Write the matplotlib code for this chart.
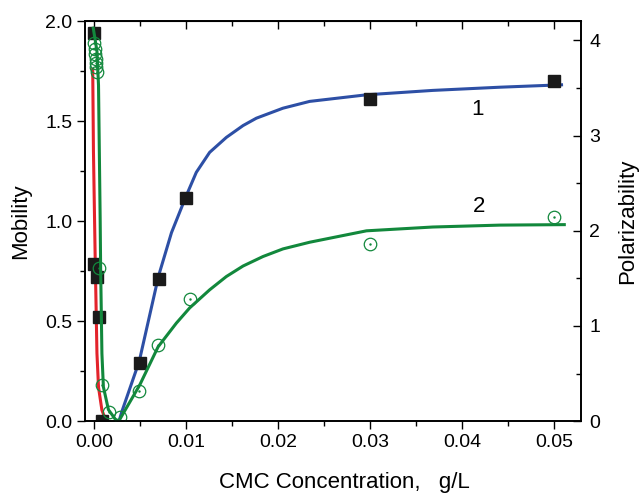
import numpy as np
import matplotlib.pyplot as plt
from matplotlib.ticker import MultipleLocator

plt.rcParams['font.family'] = ['Liberation Sans', 'DejaVu Sans']

# --- data ---
# series 1: mobility (left axis), black squares
mob_x = [0.0, 0.0, 0.0003, 0.0005, 0.0008, 0.005, 0.007, 0.010, 0.030, 0.050]
mob_y = [1.94, 0.785, 0.72, 0.52, 0.0, 0.29, 0.71, 1.115, 1.61, 1.70]

# series 2: polarizability (right axis), open green circles
pol_x = [0.0, 0.00005, 0.0001, 0.00015, 0.0002, 0.00025, 0.0003,
         0.00056, 0.0008, 0.0016, 0.0028, 0.0049, 0.0069, 0.0104, 0.030, 0.050]
pol_y = [3.97, 3.91, 3.86, 3.81, 3.76, 3.72, 3.67,
         1.61, 0.38, 0.10, 0.045, 0.32, 0.80, 1.28, 1.86, 2.15]

# fitted curves
red_x = [-0.00016, -0.00008, 0.0001, 0.0003, 0.00047, 0.00084, 0.0013]
red_y = [1.76, 1.35, 0.84, 0.34, 0.17, 0.055, 0.0]

blue_x = [0.0027, 0.0030, 0.0049, 0.0070, 0.0084, 0.0100, 0.0111, 0.01255,
          0.01437, 0.01618, 0.01763, 0.02052, 0.02342, 0.0296, 0.0368,
          0.0441, 0.0508]
blue_y = [0.0, 0.047, 0.30, 0.727, 0.943, 1.127, 1.245, 1.345,
          1.42, 1.479, 1.516, 1.566, 1.60, 1.633, 1.655,
          1.671, 1.683]

gdown_x = [-0.0001, 0.0003, 0.00047, 0.00065, 0.0007, 0.00084, 0.001, 0.00155, 0.0023, 0.0027]
gdown_y = [4.13, 3.89, 3.53, 2.12, 1.62, 0.71, 0.36, 0.12, 0.02, 0.0]

gup_x = [0.0026, 0.00277, 0.00495, 0.00694, 0.00893, 0.01038, 0.01255, 0.01437,
         0.01618, 0.01835, 0.02052, 0.02342, 0.0296, 0.0368, 0.0441, 0.0511]
gup_y = [0.0, 0.017, 0.38, 0.78, 1.03, 1.19, 1.38, 1.52,
         1.63, 1.73, 1.81, 1.88, 2.00, 2.04, 2.06, 2.065]

red = '#e3232b'
blue = '#2d4fa5'
green = '#12883c'

fig = plt.figure(figsize=(6.39, 4.99), dpi=100)
ax = fig.add_axes([0.133, 0.156, 0.776, 0.801])
ax2 = ax.twinx()

ax.plot(red_x, red_y, color=red, lw=2.2, zorder=2)
ax.plot(blue_x, blue_y, color=blue, lw=2.2, zorder=2)
ax.plot(mob_x, mob_y, 's', color='#1a1a1a', ms=8, zorder=3)

ax2.plot(gdown_x, gdown_y, color=green, lw=2.2)
ax2.plot(gup_x, gup_y, color=green, lw=2.2)
ax2.plot(pol_x, pol_y, 'o', mfc='none', mec=green, mew=0.9, ms=9)
ax2.plot(pol_x, pol_y, '.', color=green, ms=1.5)

ax.set_xlim(-0.001, 0.0529)
ax.set_ylim(0, 2.0)
ax2.set_ylim(0, 4.2)

ax.xaxis.set_major_locator(MultipleLocator(0.01))
ax.xaxis.set_minor_locator(MultipleLocator(0.005))
ax.yaxis.set_major_locator(MultipleLocator(0.5))
ax.yaxis.set_minor_locator(MultipleLocator(0.25))
ax2.yaxis.set_major_locator(MultipleLocator(1))
ax2.yaxis.set_minor_locator(MultipleLocator(0.5))

ax.xaxis.set_major_formatter(plt.FuncFormatter(lambda v, p: f'{v:.2f}'))
ax.yaxis.set_major_formatter(plt.FuncFormatter(lambda v, p: f'{v:.1f}'))
ax2.yaxis.set_major_formatter(plt.FuncFormatter(lambda v, p: f'{v:.0f}'))

ax.tick_params(which='major', direction='out', length=6, width=1, labelsize=14, pad=3)
ax.tick_params(which='minor', direction='out', length=3.5, width=1)
ax2.tick_params(which='major', direction='in', length=6, width=1, labelsize=14, pad=6)
ax2.tick_params(which='minor', direction='in', length=3.5, width=1)

top = ax.secondary_xaxis('top')
top.xaxis.set_major_locator(MultipleLocator(0.01))
top.xaxis.set_minor_locator(MultipleLocator(0.005))
top.tick_params(which='major', direction='in', length=6, width=1, labeltop=False)
top.tick_params(which='minor', direction='in', length=3.5, width=1)

for a in (ax, ax2):
    for s in a.spines.values():
        s.set_linewidth(1.2)

ax.set_xlabel('CMC Concentration,   g/L', fontsize=16)
ax.xaxis.set_label_coords(0.524, -0.128)
ax.set_ylabel('Mobility', fontsize=16, labelpad=10)
ax2.set_ylabel('Polarizability', fontsize=16, labelpad=12)

ax.text(0.0417, 1.56, '1', fontsize=16, ha='center', va='center')
ax.text(0.0418, 1.075, '2', fontsize=16, ha='center', va='center')

fig.savefig('out.png', dpi=100)
